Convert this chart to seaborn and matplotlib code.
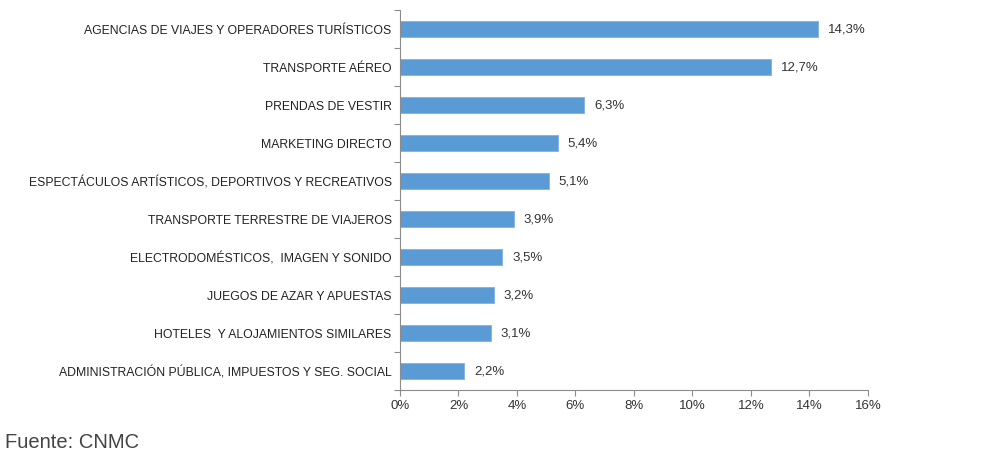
import matplotlib
matplotlib.use("Agg")
import matplotlib.pyplot as plt
import seaborn as sns
import pandas as pd
import numpy as np
from matplotlib.ticker import FixedLocator, FuncFormatter

categories = [
    "AGENCIAS DE VIAJES Y OPERADORES TURÍSTICOS",
    "TRANSPORTE AÉREO",
    "PRENDAS DE VESTIR",
    "MARKETING DIRECTO",
    "ESPECTÁCULOS ARTÍSTICOS, DEPORTIVOS Y RECREATIVOS",
    "TRANSPORTE TERRESTRE DE VIAJEROS",
    "ELECTRODOMÉSTICOS,  IMAGEN Y SONIDO",
    "JUEGOS DE AZAR Y APUESTAS",
    "HOTELES  Y ALOJAMIENTOS SIMILARES",
    "ADMINISTRACIÓN PÚBLICA, IMPUESTOS Y SEG. SOCIAL",
]
values = [14.3, 12.7, 6.3, 5.4, 5.1, 3.9, 3.5, 3.2, 3.1, 2.2]
xticks = [0, 2, 4, 6, 8, 10, 12, 14, 16]
source = "Fuente: CNMC"

sns.set_style("white")
plt.rcParams['font.family'] = ['Liberation Sans', 'DejaVu Sans']

df = pd.DataFrame({"cat": categories, "val": values})

fig = plt.figure(figsize=(10.03, 4.62), dpi=100)
ax = fig.add_axes([400/1003, 1-390/462, 468/1003, 380/462])
sns.barplot(data=df, x="val", y="cat", color="#5B9BD5", width=0.4, ax=ax,
            saturation=1, edgecolor="#7FB2E0", linewidth=0.6)

ax.set_xlim(0, 16)
ax.set_ylim(9.5, -0.5)
ax.set_xlabel("")
ax.set_ylabel("")
ax.xaxis.set_major_locator(FixedLocator(xticks))
ax.xaxis.set_major_formatter(FuncFormatter(lambda v, p: f"{int(v)}%"))
axcol = "#8C8C8C"
for s in ["top", "right"]:
    ax.spines[s].set_visible(False)
for s in ["left", "bottom"]:
    ax.spines[s].set_color(axcol)
    ax.spines[s].set_linewidth(0.8)
ax.tick_params(axis="x", which="major", bottom=True, direction="out", length=4,
               color=axcol, width=0.8, labelsize=9.5, labelcolor="#333333", pad=3)
ax.tick_params(axis="y", which="major", left=True, length=0, labelsize=8.8,
               labelcolor="#222222", pad=6)
ax.yaxis.set_minor_locator(FixedLocator(np.arange(-0.5, 10, 1.0)))
ax.tick_params(axis="y", which="minor", left=True, direction="out", length=4,
               color=axcol, width=0.8)

for i, v in enumerate(values):
    ax.annotate(f"{v:.1f}%".replace(".", ","), xy=(v, i), xytext=(7, 0),
                textcoords="offset points", va="center", ha="left",
                fontsize=9.5, color="#333333")

fig.text(5/1003, 1-442/462, source, fontsize=14.5, color="#444444",
         va="center", ha="left")

fig.savefig("out.png", dpi=100)
